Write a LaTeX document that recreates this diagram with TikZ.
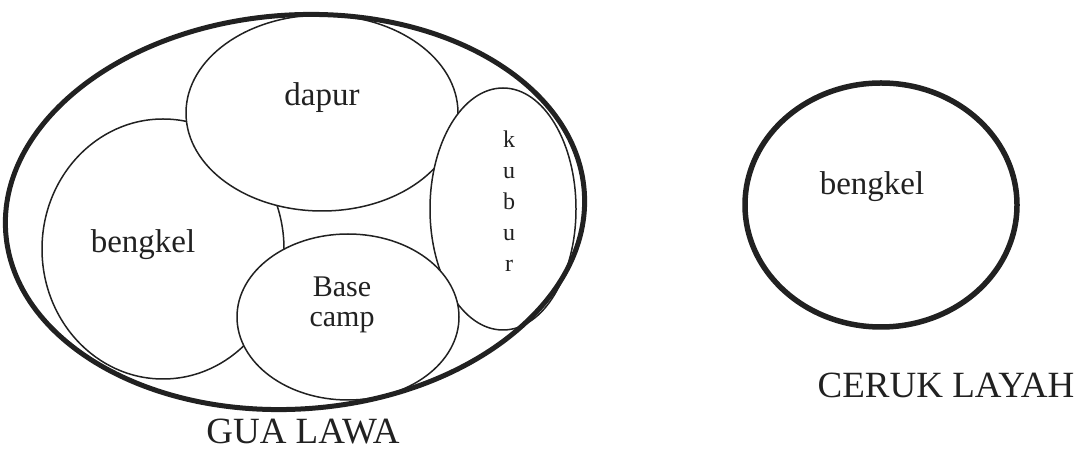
\documentclass[tikz,border=0pt]{standalone}
\usepackage{fontspec}
\setmainfont{Liberation Serif}
\usetikzlibrary{shapes.geometric}
\definecolor{ink}{gray}{0.13}
\tikzset{
  room/.style={shape=ellipse,draw=ink,fill=white,line width=1.5pt,inner sep=0pt},
  cave/.style={shape=ellipse,draw=ink,line width=5pt,inner sep=0pt},
  roomname/.style={text=ink,font=\fontsize{33}{33}\selectfont,inner sep=0pt,anchor=base},
  cavename/.style={text=ink,font=\fontsize{37}{37}\selectfont,inner sep=0pt,anchor=base}
}

\begin{document}
\begin{tikzpicture}[x=1pt,y=1pt]
    \useasboundingbox (0,0) rectangle (1084,452);
    % GUA LAWA
    \node (bengkel) at (163,203) [room,minimum width=242,minimum height=260] {};
    \node (dapur) at (322,339) [room,minimum width=272,minimum height=196] {};
    \node (kubur) at (503,243) [room,minimum width=146,minimum height=242] {};
    \node (basecamp) at (348,135) [room,minimum width=222,minimum height=166] {};
    \node (gualawa) at (295,240) [cave,rotate=4,minimum width=580,minimum height=394] {};
    \node (dapurtext) at (322,346) [roomname] {dapur};
    \node (bengkeltext) at (143,199) [roomname] {bengkel};
    \node (basecamptext) at (342,175) [roomname,anchor=north,align=center,font=\fontsize{30}{30}\selectfont] {Base\\camp};
    \foreach \c [count=\i] in {k,u,b,u,r} % letters of kubur, top to bottom
    \node (kubur\i) at (509,{335-31*\i}) [roomname,font=\fontsize{24}{24}\selectfont] {\c};
    \node (gualawatext) at (303,8) [cavename] {GUA LAWA};
    % CERUK LAYAH
    \node (ceruk) at (881,247) [cave,line width=5.5pt,minimum width=272,minimum height=244] {};
    \node (cerukbengkel) at (872,257) [roomname] {bengkel};
    \node (ceruktext) at (946,54) [cavename] {CERUK LAYAH};
\end{tikzpicture}
\end{document}
